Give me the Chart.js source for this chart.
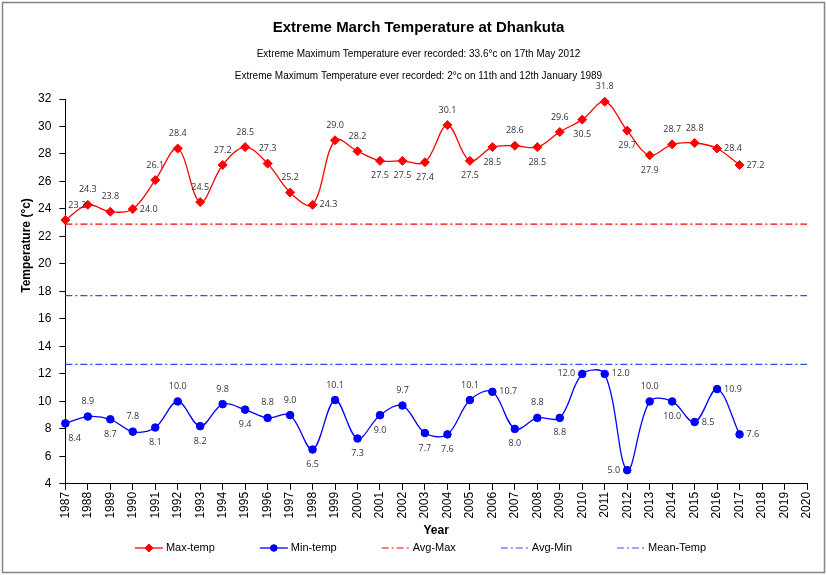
<!DOCTYPE html>
<html>
<head>
<meta charset="utf-8">
<title>Extreme March Temperature at Dhankuta</title>
<script src="https://cdn.jsdelivr.net/npm/chart.js@4.4.1/dist/chart.umd.min.js"></script>
<style>
  html, body { margin: 0; padding: 0; background: #fff; }
  #wrap { width: 827px; height: 575px; }
</style>
</head>
<body>
<div id="wrap"><canvas id="chart" width="827" height="575"></canvas></div>
<script>
// ── Data ──
const years = ['1987', '1988', '1989', '1990', '1991', '1992', '1993', '1994', '1995', '1996',
    '1997', '1998', '1999', '2000', '2001', '2002', '2003', '2004', '2005', '2006', '2007',
    '2008', '2009', '2010', '2011', '2012', '2013', '2014', '2015', '2016', '2017', '2018',
    '2019', '2020'];
const maxTemp = [23.2, 24.3, 23.8, 24.0, 26.1, 28.4, 24.5, 27.2, 28.5, 27.3, 25.2, 24.3, 29.0, 28.2,
    27.5, 27.5, 27.4, 30.1, 27.5, 28.5, 28.6, 28.5, 29.6, 30.5, 31.8, 29.7, 27.9, 28.7, 28.8, 28.4, 27.2];
const minTemp = [8.4, 8.9, 8.7, 7.8, 8.1, 10.0, 8.2, 9.8, 9.4, 8.8, 9.0, 6.5, 10.1, 7.3, 9.0, 9.7,
    7.7, 7.6, 10.1, 10.7, 8.0, 8.8, 8.8, 12.0, 12.0, 5.0, 10.0, 10.0, 8.5, 10.9, 7.6];
const avgMax = 22.9;
const avgMin = 12.7;
const meanTemp = 17.7;

// where each value label sits: a = above, b = below, r = right, l = left
const maxLabelPos = ['a', 'a', 'a', 'r', 'a', 'a', 'a', 'a', 'a', 'a', 'a', 'r', 'a', 'a', 'b', 'b',
    'b', 'a', 'b', 'b', 'a', 'b', 'a', 'b', 'a', 'b', 'b', 'a', 'a', 'r', 'r'];
const minLabelPos = ['b', 'a', 'b', 'a', 'b', 'a', 'b', 'a', 'b', 'a', 'a', 'b', 'a', 'b', 'b', 'a',
    'b', 'b', 'a', 'r', 'b', 'a', 'b', 'l', 'r', 'l', 'a', 'b', 'r', 'r', 'r'];

const TITLE = 'Extreme March Temperature at Dhankuta';
const SUBTITLES = [
    'Extreme Maximum Temperature ever recorded: 33.6°c on 17th May 2012',
    'Extreme Maximum Temperature ever recorded: 2°c on 11th and 12th January 1989'
];
const Y_TITLE = 'Temperature (°c)';

const FONT = '"Liberation Sans", Arial, sans-serif';
const LABEL_FONT = '9px "Open Sans", "Noto Sans", sans-serif';
const DASH_DOT = [7, 3, 2, 3];

// straight reference line from first to last year
function refLine(v) {
    return [{ x: years[0], y: v }, { x: years[years.length - 1], y: v }];
}

// ── Plugin: background, frame, y title, value labels, legend ──
const decor = {
    id: 'decor',
    beforeDraw(chart) {
        const ctx = chart.ctx;
        ctx.save();
        ctx.fillStyle = '#fff';
        ctx.fillRect(0, 0, chart.width, chart.height);
        ctx.restore();
    },
    afterDatasetsDraw(chart) {
        const ctx = chart.ctx;
        const area = chart.chartArea;
        ctx.save();
        ctx.font = LABEL_FONT;
        ctx.fillStyle = '#333';
        ctx.textBaseline = 'middle';
        chart.data.datasets.forEach((ds, di) => {
            if (!ds.labelPos) return;
            const meta = chart.getDatasetMeta(di);
            meta.data.forEach((pt, i) => {
                const txt = ds.data[i].toFixed(1);
                const w = ctx.measureText(txt).width;
                const pos = ds.labelPos[i];
                let x = pt.x, y = pt.y;
                if (pos === 'a') { x -= w / 2; y -= 15; }
                else if (pos === 'b') { x -= w / 2; y += 15; }
                else if (pos === 'r') { x += 7; }
                else if (pos === 'l') { x -= 7 + w; }
                x = Math.max(x, area.left + 3);
                ctx.fillText(txt, x, y);
            });
        });
        ctx.restore();
    },
    afterDraw(chart) {
        const ctx = chart.ctx;
        const area = chart.chartArea;
        ctx.save();

        // y axis title
        ctx.translate(27, (area.top + area.bottom) / 2 - 46);
        ctx.rotate(-Math.PI / 2);
        ctx.font = 'bold 12px ' + FONT;
        ctx.fillStyle = '#000';
        ctx.textAlign = 'center';
        ctx.textBaseline = 'middle';
        ctx.fillText(Y_TITLE, 0, 0);
        ctx.setTransform(1, 0, 0, 1, 0, 0);

        // legend
        const items = chart.data.datasets;
        ctx.font = '11px ' + FONT;
        ctx.textAlign = 'left';
        const lineW = 28, gap = 3, spacing = 45;
        const widths = items.map(ds => lineW + gap + ctx.measureText(ds.label).width);
        const total = widths.reduce((s, w) => s + w, 0) + spacing * (items.length - 1);
        let x = (chart.width - total) / 2 + 7;
        const y = 548;
        items.forEach((ds, i) => {
            ctx.strokeStyle = ds.borderColor;
            ctx.lineWidth = ds.borderWidth;
            ctx.setLineDash(ds.borderDash || []);
            ctx.beginPath(); ctx.moveTo(x, y); ctx.lineTo(x + lineW, y); ctx.stroke();
            ctx.setLineDash([]);
            if (ds.pointRadius) {
                ctx.fillStyle = ds.pointBackgroundColor;
                ctx.strokeStyle = ds.pointBorderColor;
                ctx.lineWidth = 1;
                Chart.helpers.drawPoint(ctx, { pointStyle: ds.pointStyle, radius: ds.pointRadius - 0.5, borderWidth: 1 }, x + lineW / 2, y);
            }
            ctx.fillStyle = '#000';
            ctx.fillText(ds.label, x + lineW + gap, y);
            x += widths[i] + spacing;
        });

        // outer frame
        ctx.strokeStyle = '#858585';
        ctx.lineWidth = 1.5;
        ctx.strokeRect(2.5, 2.5, chart.width - 5, chart.height - 5);
        ctx.restore();
    }
};

new Chart(document.getElementById('chart'), {
    type: 'line',
    data: {
        labels: years,
        datasets: [
            { label: 'Max-temp', data: maxTemp, labelPos: maxLabelPos, borderColor: '#FF0000', backgroundColor: '#FF0000',
              borderWidth: 1.3, tension: 0.35, pointStyle: 'rectRot', pointRadius: 4.5,
              pointBackgroundColor: '#FF0000', pointBorderColor: '#FF0000', pointBorderWidth: 1, clip: false },
            { label: 'Min-temp', data: minTemp, labelPos: minLabelPos, borderColor: '#0000FF', backgroundColor: '#0000FF',
              borderWidth: 1.3, tension: 0.35, pointStyle: 'circle', pointRadius: 3.8,
              pointBackgroundColor: '#0000FF', pointBorderColor: '#0000FF', pointBorderWidth: 1, clip: false },
            { label: 'Avg-Max', data: refLine(avgMax), borderColor: '#FF0000', borderWidth: 1.2,
              borderDash: DASH_DOT, pointRadius: 0 },
            { label: 'Avg-Min', data: refLine(avgMin), borderColor: '#3344FF', borderWidth: 1.2,
              borderDash: DASH_DOT, pointRadius: 0 },
            { label: 'Mean-Temp', data: refLine(meanTemp), borderColor: '#6633FF', borderWidth: 1.2,
              borderDash: DASH_DOT, pointRadius: 0 }
        ]
    },
    options: {
        responsive: false,
        animation: false,
        events: [],
        layout: { padding: { left: 30, right: 20, top: 0, bottom: 37 } },
        plugins: {
            legend: { display: false },
            tooltip: { enabled: false },
            title: { display: true, text: TITLE, color: '#000',
                font: { family: FONT, size: 15, weight: 'bold', lineHeight: 1.2 }, padding: { top: 19, bottom: 6 } },
            subtitle: { display: true, text: SUBTITLES, color: '#000',
                font: { family: FONT, size: 10, lineHeight: 2.2 }, padding: { top: 0, bottom: 12 } }
        },
        scales: {
            x: {
                ticks: { autoSkip: false, maxRotation: 90, minRotation: 90, color: '#000',
                    font: { family: FONT, size: 12 }, padding: 2 },
                grid: { drawOnChartArea: false, tickLength: 6, color: '#000' },
                border: { color: '#000', width: 1 },
                title: { display: true, text: 'Year', color: '#000',
                    font: { family: FONT, size: 12, weight: 'bold' }, padding: { top: 3, bottom: 0 } }
            },
            y: {
                min: 4, max: 32,
                ticks: { stepSize: 2, color: '#000', font: { family: FONT, size: 12 }, padding: 8 },
                grid: { drawOnChartArea: false, tickLength: 6, color: '#000' },
                border: { color: '#000', width: 1 }
            }
        }
    },
    plugins: [decor]
});
</script>
</body>
</html>
